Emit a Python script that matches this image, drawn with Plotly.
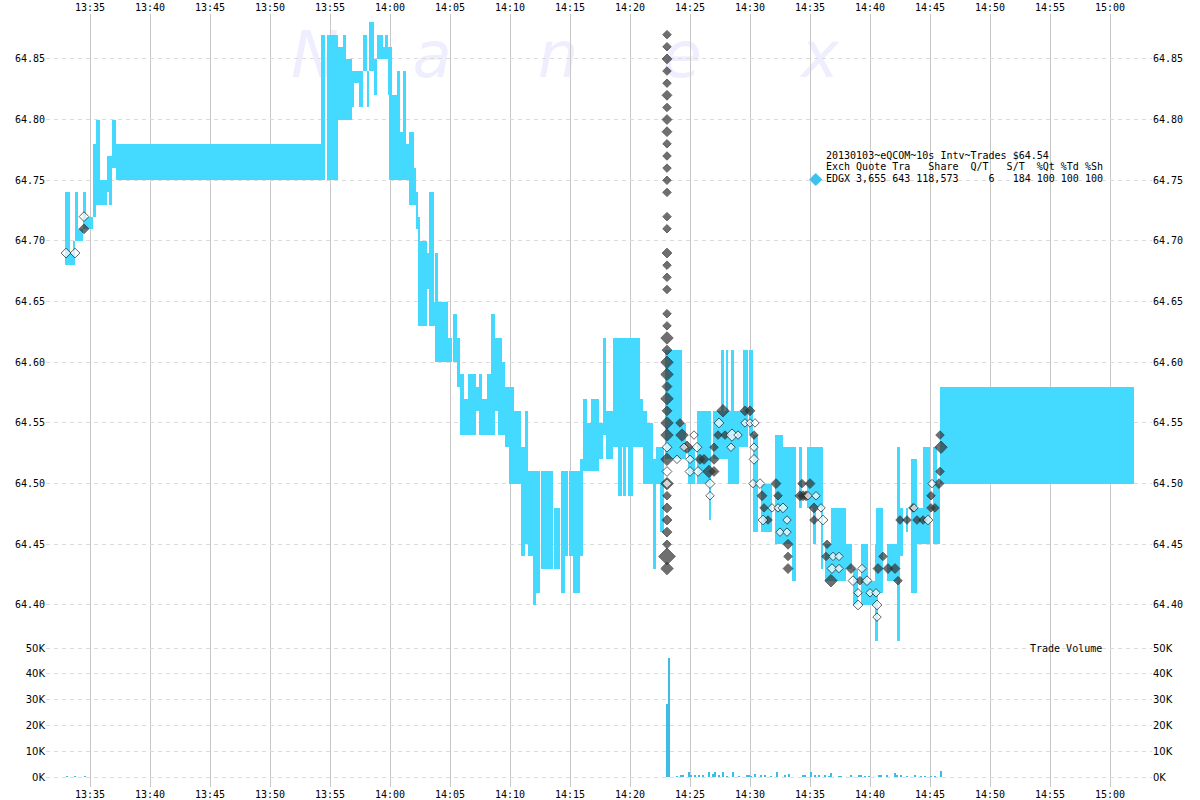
import pandas as pd
import plotly.graph_objects as go

DAY = "2013-01-03 "

# ---------------- quote spread (cyan) segments ----------------
seg_start = ["13:32:55","13:33:20","13:33:35","13:33:45","13:34:00","13:34:25","13:34:40","13:35:15","13:35:30","13:35:50",
             "13:36:25","13:36:35","13:36:50","13:37:10","13:54:15","13:54:45","13:55:40","13:56:05","13:56:20","13:56:50",
             "13:57:00","13:57:25","13:57:45","13:58:05","13:58:15","13:58:40","13:58:55","13:59:25","13:59:35","13:59:50",
             "13:59:55","14:00:35","14:00:50","14:01:05","14:01:20","14:01:35","14:02:00","14:02:10","14:02:20","14:02:30",
             "14:03:05","14:03:15","14:03:40","14:03:45","14:04:00","14:04:50","14:05:15","14:05:35","14:05:50","14:06:10",
             "14:06:30","14:07:10","14:07:25","14:07:40","14:08:05","14:08:25","14:08:45","14:09:00","14:09:20","14:09:35",
             "14:09:55","14:10:20","14:10:55","14:11:15","14:11:30","14:11:55","14:12:10","14:12:35","14:13:40","14:14:15",
             "14:14:35","14:14:55","14:15:15","14:15:50","14:16:05","14:16:25","14:16:45","14:17:25","14:17:45","14:18:00",
             "14:18:35","14:19:00","14:19:25","14:19:50","14:20:50","14:21:05","14:21:25","14:21:55","14:22:10","14:22:30",
             "14:22:55","14:24:20","14:24:50","14:25:35","14:26:35","14:26:55","14:27:35","14:28:00","14:28:10","14:28:25",
             "14:28:40","14:29:05","14:29:25","14:29:55","14:30:15","14:30:55","14:32:05","14:32:45","14:33:30","14:34:05",
             "14:34:45","14:35:15","14:35:55","14:36:15","14:36:45","14:38:00","14:38:35","14:39:15","14:39:50","14:40:25",
             "14:40:30","14:41:25","14:42:15","14:42:30","14:43:00","14:43:25","14:43:55","14:44:25","14:45:15","14:45:35",
             "14:45:50"]
seg_end = ["13:33:20","13:33:35","13:33:45","13:34:00","13:34:25","13:34:40","13:35:15","13:35:30","13:35:50","13:36:25",
           "13:36:35","13:36:50","13:37:10","13:54:35","13:54:35","13:55:40","13:56:05","13:56:20","13:56:50","13:57:00",
           "13:57:25","13:57:45","13:58:05","13:58:15","13:58:40","13:58:55","13:59:25","13:59:35","13:59:50","14:00:10",
           "14:00:35","14:00:50","14:01:05","14:01:20","14:01:35","14:02:00","14:02:10","14:02:20","14:02:30","14:03:05",
           "14:03:15","14:03:40","14:03:45","14:04:00","14:04:50","14:05:10","14:05:35","14:05:50","14:06:10","14:06:30",
           "14:07:10","14:07:25","14:07:40","14:08:05","14:08:25","14:08:45","14:09:00","14:09:20","14:09:35","14:09:55",
           "14:10:20","14:10:55","14:11:15","14:11:30","14:11:55","14:12:10","14:12:30","14:13:35","14:14:10","14:14:35",
           "14:14:50","14:15:15","14:15:50","14:16:05","14:16:25","14:16:45","14:17:25","14:17:45","14:18:00","14:18:35",
           "14:20:50","14:19:20","14:19:40","14:20:15","14:21:05","14:21:25","14:21:55","14:22:10","14:22:30","14:22:50",
           "14:24:20","14:24:40","14:25:25","14:26:35","14:26:45","14:28:10","14:27:50","14:28:10","14:28:25","14:28:40",
           "14:29:05","14:29:25","14:29:50","14:30:15","14:30:40","14:31:50","14:32:45","14:33:30","14:33:50","14:34:20",
           "14:36:05","14:35:30","14:36:05","14:36:45","14:38:00","14:38:30","14:39:00","14:39:50","14:40:25","14:40:40",
           "14:41:05","14:42:15","14:42:30","14:42:45","14:43:10","14:43:55","14:44:25","14:45:00","14:45:35","14:45:50",
           "15:02:00"]
seg_low = [64.68,64.68,64.68,64.70,64.70,64.71,64.71,64.72,64.73,64.73,
           64.74,64.73,64.76,64.75,64.75,64.75,64.80,64.80,64.80,64.81,
           64.83,64.81,64.84,64.81,64.84,64.82,64.85,64.85,64.85,64.82,
           64.75,64.75,64.75,64.75,64.75,64.73,64.73,64.71,64.63,64.63,
           64.66,64.63,64.63,64.60,64.60,64.60,64.60,64.58,64.54,64.54,
           64.54,64.56,64.54,64.54,64.54,64.54,64.56,64.54,64.54,64.53,
           64.50,64.50,64.44,64.45,64.44,64.40,64.41,64.43,64.43,64.41,
           64.44,64.44,64.41,64.44,64.51,64.51,64.51,64.52,64.54,64.52,
           64.53,64.49,64.49,64.49,64.53,64.50,64.50,64.43,64.50,64.46,
           64.52,64.52,64.50,64.50,64.47,64.52,64.56,64.56,64.50,64.50,
           64.50,64.53,64.53,64.54,64.46,64.46,64.45,64.45,64.42,64.48,
           64.48,64.45,64.43,64.42,64.42,64.43,64.40,64.40,64.40,64.37,
           64.41,64.42,64.37,64.44,64.46,64.41,64.45,64.45,64.45,64.45,
           64.50]
seg_high = [64.74,64.69,64.70,64.74,64.71,64.74,64.72,64.78,64.80,64.75,
            64.77,64.77,64.80,64.78,64.87,64.87,64.86,64.87,64.85,64.84,
            64.84,64.84,64.87,64.84,64.88,64.85,64.87,64.86,64.87,64.86,
            64.82,64.84,64.79,64.84,64.78,64.79,64.76,64.74,64.72,64.70,
            64.69,64.74,64.65,64.69,64.65,64.62,64.64,64.62,64.59,64.57,
            64.59,64.58,64.59,64.57,64.59,64.64,64.62,64.62,64.60,64.58,
            64.58,64.56,64.53,64.56,64.51,64.51,64.51,64.51,64.48,64.51,
            64.51,64.51,64.51,64.52,64.57,64.55,64.57,64.55,64.62,64.56,
            64.62,64.53,64.53,64.53,64.57,64.56,64.55,64.52,64.53,64.53,
            64.61,64.55,64.53,64.56,64.56,64.56,64.61,64.61,64.56,64.61,
            64.56,64.56,64.61,64.61,64.54,64.50,64.54,64.53,64.53,64.53,
            64.53,64.48,64.48,64.45,64.48,64.45,64.43,64.45,64.42,64.45,
            64.48,64.45,64.53,64.48,64.48,64.52,64.48,64.53,64.53,64.50,
            64.58]

# ---------------- trades (B = dark, S = white) ----------------
trade_time = (["13:33:00","13:33:45","13:34:30","13:34:30"]
              + ["14:23:05"] * 40
              + ["14:23:05"] * 3
              + ["14:24:10","14:24:20","14:23:55","14:24:45","14:24:30","14:25:20","14:25:35","14:25:00","14:25:50","14:26:10",
                 "14:25:00","14:25:40","14:26:35","14:27:00","14:26:40","14:26:40","14:27:00","14:27:00","14:27:45","14:27:25",
                 "14:27:20","14:27:55","14:28:30","14:29:00","14:28:25","14:29:35","14:30:00","14:29:35","14:30:00","14:30:25",
                 "14:30:20","14:30:20","14:30:20","14:30:15","14:30:50","14:32:10","14:31:00","14:32:20","14:31:10","14:31:50",
                 "14:32:20","14:32:45","14:31:05","14:31:30","14:33:05","14:32:30","14:33:05","14:33:10","14:33:10","14:33:10",
                 "14:34:20","14:35:00","14:34:50","14:34:10","14:34:25","14:34:40","14:35:30","14:35:20","14:35:55","14:35:20",
                 "14:36:05","14:36:25","14:36:20","14:36:55","14:37:25","14:36:50","14:37:25","14:36:45","14:38:25","14:39:20",
                 "14:38:35","14:39:10","14:39:45","14:39:00","14:40:00","14:40:30","14:39:00","14:40:35","14:40:35","14:41:05",
                 "14:40:40","14:41:30","14:42:05","14:42:20","14:42:30","14:43:05","14:43:35","14:43:40","14:43:55","14:44:25",
                 "14:44:50","14:45:05","14:45:05","14:45:25","14:45:10","14:45:45","14:45:50","14:45:55","14:45:50"])
trade_price = ([64.69,64.69,64.72,64.71]
               + [64.87,64.86,64.85,64.84,64.83,64.82,64.81,64.80,64.79,64.78,
                  64.77,64.76,64.75,64.74,64.72,64.71,64.69,64.68,64.67,64.66,
                  64.64,64.63,64.62,64.61,64.60,64.59,64.58,64.57,64.56,64.55,
                  64.54,64.52,64.50,64.49,64.48,64.47,64.46,64.45,64.44,64.43]
               + [64.53,64.51,64.50]
               + [64.55,64.54,64.52,64.53,64.53,64.54,64.53,64.52,64.52,64.52,
                  64.51,64.51,64.51,64.51,64.50,64.49,64.53,64.52,64.56,64.55,
                  64.54,64.54,64.54,64.54,64.53,64.56,64.56,64.55,64.55,64.55,
                  64.54,64.53,64.52,64.50,64.50,64.50,64.49,64.49,64.48,64.48,
                  64.48,64.48,64.47,64.47,64.47,64.46,64.46,64.45,64.44,64.43,
                  64.50,64.50,64.49,64.49,64.49,64.49,64.49,64.48,64.48,64.47,
                  64.47,64.45,64.44,64.44,64.44,64.43,64.43,64.42,64.43,64.43,
                  64.42,64.42,64.42,64.41,64.41,64.41,64.40,64.40,64.39,64.44,
                  64.43,64.43,64.43,64.42,64.47,64.47,64.48,64.48,64.47,64.47,
                  64.47,64.49,64.48,64.48,64.50,64.50,64.51,64.53,64.54])
trade_side = (["S","S","S","B"]
              + ["B"] * 40
              + ["S"] * 3
              + ["B","B","S","B","S","S","S","S","B","B",
                 "S","S","B","B","S","S","B","B","B","S",
                 "B","B","S","S","S","B","B","S","S","S",
                 "B","S","S","S","S","B","B","B","B","S",
                 "S","S","S","B","S","S","S","B","B","B",
                 "B","B","S","B","B","B","S","B","S","B",
                 "S","B","B","S","S","S","S","B","B","S",
                 "S","B","S","S","S","S","S","S","S","B",
                 "B","B","B","B","B","B","B","S","B","B",
                 "S","B","B","B","S","B","B","B","B"])
trade_shares = ([300,300,300,300]
                + [100,100,300,100,100,300,100,300,300,100,
                   100,100,100,100,100,100,300,100,100,100,
                   100,100,1000,300,1000,1000,300,1000,300,1000,
                   1000,1000,1000,100,300,300,300,100,3000,1000]
                + [300,300,300]
                + [100,1000,100,1000,100,100,300,100,300,300,
                   300,300,1000,300,300,100,100,300,1000,300,
                   100,100,1000,100,100,300,300,100,100,100,
                   100,100,300,100,300,300,300,100,100,100,
                   100,300,300,100,100,100,100,300,100,300,
                   100,300,100,300,300,300,100,300,100,100,
                   300,100,100,100,100,300,100,1000,300,100,
                   300,100,300,100,100,100,300,300,100,100,
                   300,300,300,100,100,100,100,100,100,100,
                   300,100,100,100,100,300,100,1000,100])

# ---------------- trade volume per 10s interval ----------------
vol_time = ["13:33:00","13:33:40","13:34:30","14:23:00","14:23:10","14:23:50","14:24:10","14:24:20","14:24:50","14:25:00",
            "14:25:20","14:25:40","14:26:00","14:26:30","14:26:50","14:27:00","14:27:20","14:27:40","14:28:00","14:28:30",
            "14:29:00","14:29:40","14:29:50","14:30:00","14:30:20","14:30:50","14:31:10","14:31:40","14:32:10","14:32:50",
            "14:33:10","14:34:20","14:34:30","14:35:00","14:35:20","14:35:40","14:36:10","14:36:30","14:36:40","14:37:20",
            "14:37:30","14:38:20","14:39:00","14:39:10","14:39:30","14:39:50","14:40:40","14:40:50","14:41:20","14:42:00",
            "14:42:10","14:42:30","14:43:00","14:43:40","14:44:10","14:44:30","14:45:00","14:45:20","14:45:50"]
vol_shares = [150,150,150,28300,46200,300,600,500,2000,900,
              800,800,500,2000,1000,2000,600,1800,300,1800,
              300,800,800,300,1000,400,800,300,2000,400,
              1000,800,600,2000,800,600,600,300,1500,300,
              300,400,800,400,300,300,800,400,400,1600,
              700,500,300,600,300,300,300,300,2200]

# ---------------- axis ticks ----------------
price_ticks = [64.40, 64.45, 64.50, 64.55, 64.60, 64.65, 64.70, 64.75, 64.80, 64.85]
vol_ticks = [0, 10000, 20000, 30000, 40000, 50000]
vol_tick_labels = ["0K", "10K", "20K", "30K", "40K", "50K"]
time_ticks = ["13:35","13:40","13:45","13:50","13:55","14:00","14:05","14:10","14:15","14:20",
              "14:25","14:30","14:35","14:40","14:45","14:50","14:55","15:00"]

title_line = "20130103~eQCOM~10s Intv~Trades $64.54"
header_line = "Exch Quote Tra   Share  Q/T   S/T  %Qt %Td %Sh"
row_line = "EDGX 3,655 643 118,573     6   184 100 100 100"

# ---------------- build ----------------
CYAN = "#44D9FF"
VOLC = "#3BBDE6"
DARK = "#333333"

s = pd.to_datetime([DAY + t for t in seg_start])
e = pd.to_datetime([DAY + t for t in seg_end])
mid = s + (e - s) / 2
width_ms = [(b - a).total_seconds() * 1000 for a, b in zip(s, e)]
span = [h - l for l, h in zip(seg_low, seg_high)]

fig = go.Figure()
fig.add_trace(go.Bar(x=mid, y=span, base=seg_low, width=width_ms,
                     marker=dict(color=CYAN, line=dict(width=0)),
                     xaxis="x", yaxis="y", hoverinfo="skip"))

tdf = pd.DataFrame({"t": pd.to_datetime([DAY + t for t in trade_time]),
                    "p": trade_price, "side": trade_side, "sh": trade_shares})
tdf["size"] = 5.1 + 1.4 * (tdf["sh"] / 100) ** 0.5
b = tdf[tdf.side == "B"]
w = tdf[tdf.side == "S"]
fig.add_trace(go.Scatter(x=b.t, y=b.p, mode="markers", xaxis="x", yaxis="y",
                         marker=dict(symbol="diamond", size=b["size"], color=DARK,
                                     line=dict(color="#222222", width=1))))
fig.add_trace(go.Scatter(x=w.t, y=w.p, mode="markers", xaxis="x", yaxis="y",
                         marker=dict(symbol="diamond", size=w["size"], color="white",
                                     line=dict(color="#222222", width=1))))

vt = pd.to_datetime([DAY + t for t in vol_time]) + pd.Timedelta(seconds=5)
fig.add_trace(go.Bar(x=vt, y=vol_shares, width=[9000] * len(vol_shares),
                     marker=dict(color=VOLC, line=dict(width=0)),
                     xaxis="x2", yaxis="y2", hoverinfo="skip"))

# invisible traces for the right-hand axes
fig.add_trace(go.Scatter(x=[mid[0]], y=[seg_low[0]], mode="markers", marker=dict(opacity=0),
                         xaxis="x", yaxis="y3", hoverinfo="skip"))
fig.add_trace(go.Scatter(x=[vt[0]], y=[0], mode="markers", marker=dict(opacity=0),
                         xaxis="x2", yaxis="y4", hoverinfo="skip"))

FW, FH = 1200, 800
PX0, PX1, PY0, PY1 = 46, 1152, 14, 787   # plot area in page pixels
def px(xp):
    return (xp - PX0) / (PX1 - PX0)
def py(yp):
    return (PY1 - yp) / (PY1 - PY0)

split = py(645)
xr = [DAY + "13:31:20", DAY + "15:03:30"]
tickvals_t = [DAY + t for t in time_ticks]
mono = "DejaVu Sans Mono"

xcommon = dict(type="date", range=xr, tickvals=tickvals_t, ticktext=time_ticks,
               showgrid=True, gridcolor="#c8c8c8", gridwidth=1, zeroline=False,
               showline=False, ticks="", automargin=False,
               tickfont=dict(family=mono, size=10, color="#000"))
ygrid = dict(showgrid=True, gridcolor="#dcdcdc", gridwidth=1, griddash="4px,4px",
             zeroline=False, showline=False, ticks="", automargin=False)

price_range = [64.367, 64.887]
vol_range = [-3876, 51163]

fig.update_layout(
    template="none",
    width=FW, height=FH,
    margin=dict(l=PX0, r=FW - PX1, t=PY0, b=FH - PY1),
    paper_bgcolor="white", plot_bgcolor="white",
    showlegend=False, barmode="overlay", bargap=0,
    xaxis=dict(**xcommon, domain=[0, 1], anchor="y", side="top"),
    xaxis2=dict(**xcommon, domain=[0, 1], anchor="y2", side="bottom", matches="x"),
    yaxis=dict(**ygrid, domain=[split, 1], range=price_range, tickvals=price_ticks,
               tickformat=".2f", side="left", anchor="x",
               tickfont=dict(family=mono, size=10, color="#000")),
    yaxis3=dict(domain=[split, 1], range=price_range, tickvals=price_ticks,
                tickformat=".2f", side="right", anchor="x", overlaying="y",
                showgrid=False, zeroline=False, ticks="", automargin=False,
                tickfont=dict(family=mono, size=10, color="#000")),
    yaxis2=dict(**ygrid, domain=[0, split], range=vol_range, tickvals=vol_ticks,
                ticktext=vol_tick_labels, side="left", anchor="x2",
                tickfont=dict(family="DejaVu Sans", size=10, color="#000")),
    yaxis4=dict(domain=[0, split], range=vol_range, tickvals=vol_ticks,
                ticktext=vol_tick_labels, side="right", anchor="x2", overlaying="y2",
                showgrid=False, zeroline=False, ticks="", automargin=False,
                tickfont=dict(family="DejaVu Sans", size=10, color="#000")),
)

# watermark letters, drawn beneath the data
for ch, cx in zip("Nanex", [315, 432, 558, 682, 820]):
    fig.add_shape(type="rect", xref="paper", yref="paper",
                  x0=px(cx - 40), x1=px(cx + 40), y0=py(85), y1=py(15),
                  line=dict(width=0), fillcolor="rgba(0,0,0,0)", layer="below",
                  label=dict(text=ch, font=dict(family="DejaVu Sans", size=64,
                                                color="#EEEEFF", style="italic"),
                             textposition="middle center"))

ann_font = dict(family=mono, size=10, color="#000")
for txt, yy in [(title_line, 155), (header_line, 167), (row_line, 178)]:
    fig.add_annotation(text=txt, xref="paper", yref="paper", x=px(824), y=py(yy),
                       xanchor="left", yanchor="middle", showarrow=False, font=ann_font)
fig.add_annotation(text="◆", xref="paper", yref="paper", x=px(816), y=py(178),
                   xanchor="center", yanchor="middle", showarrow=False,
                   font=dict(family="DejaVu Sans", size=17, color="#3CC2EC"))
fig.add_annotation(text="Trade Volume", xref="paper", yref="paper", x=px(1104), y=py(648),
                   xanchor="right", yanchor="middle", showarrow=False, font=ann_font)

# remove the browser's default 8px page margin so the figure sits at (0, 0)
fig.write_html("out.html", config={"displayModeBar": False},
               post_script="document.body.style.margin='0px';")
